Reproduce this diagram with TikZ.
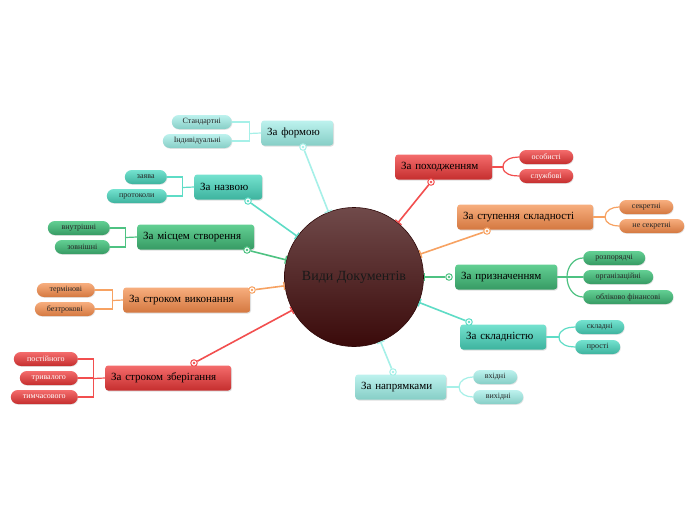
\documentclass[tikz,border=0pt]{standalone}
\usepackage{fontspec}
\setmainfont{Liberation Serif}
\usetikzlibrary{shadows,arrows.meta,calc}
\definecolor{cyA}{HTML}{BDF2EE}\definecolor{cyB}{HTML}{86CEC6}\definecolor{cyL}{HTML}{A6F0E8}
\definecolor{tlA}{HTML}{74E2CF}\definecolor{tlB}{HTML}{3DB39E}\definecolor{tlL}{HTML}{5EDCC6}
\definecolor{grA}{HTML}{62CF93}\definecolor{grB}{HTML}{379B64}\definecolor{grL}{HTML}{4EC282}
\definecolor{orA}{HTML}{F7AE7E}\definecolor{orB}{HTML}{D47840}\definecolor{orL}{HTML}{F7A262}
\definecolor{rdA}{HTML}{F46C6C}\definecolor{rdB}{HTML}{C52E2E}\definecolor{rdL}{HTML}{F24F4F}
\definecolor{ctA}{HTML}{704A4A}\definecolor{ctB}{HTML}{3A0A0A}
\tikzset{
  mainbox/.style={rectangle, rounded corners=3pt, minimum height=25pt, inner xsep=6pt, inner ysep=0pt,
    font=\fontsize{11}{13}\selectfont, text=black, align=left,
    drop shadow={shadow xshift=0.8pt, shadow yshift=-1pt, opacity=0.25}},
  leaf/.style={rectangle, rounded corners=7pt, minimum height=14pt, inner sep=0pt,
    font=\fontsize{8}{9}\selectfont, text=black!85,
    drop shadow={shadow xshift=0.6pt, shadow yshift=-0.8pt, opacity=0.2}},
  cy/.style={top color=cyA, bottom color=cyB},
  tl/.style={top color=tlA, bottom color=tlB},
  gr/.style={top color=grA, bottom color=grB},
  or/.style={top color=orA, bottom color=orB},
  rd/.style={top color=rdA, bottom color=rdB},
  ring/.style={circle, draw=#1, fill=white, line width=1pt, minimum size=6.5pt, inner sep=0pt,
    path picture={\fill[#1] (path picture bounding box.center) circle (1.3pt);}},
  trunk/.style={color=#1, line width=1.6pt, -{Bar[width=8pt,line width=1.3pt]}},
  twig/.style={color=#1, line width=1.2pt, line cap=round},
}
\begin{document}
\begin{tikzpicture}[x=1pt,y=-1pt]
\fill[white] (0,0) rectangle (696,520);
\useasboundingbox (0,0) rectangle (696,520);

% centre
\node[circle, minimum size=139pt, inner sep=0pt, top color=ctA, bottom color=ctB, draw=ctB!80!black, line width=0.6pt,
  font=\fontsize{14}{16}\selectfont, text=black!90] (c) at (354,277) {Види Документів};

% main boxes
\node[mainbox, cy, anchor=west, text width=60pt] (f) at (261,133) {За формою};
\node[mainbox, tl, anchor=west, text width=56pt] (n) at (194,187) {За назвою};
\node[mainbox, gr, anchor=west, text width=105pt] (m) at (137,237) {За місцем створення};
\node[mainbox, or, anchor=west, text width=115pt] (v) at (123,300) {За строком виконання};
\node[mainbox, rd, anchor=west, text width=114pt] (z) at (105,378) {За строком зберігання};
\node[mainbox, rd, anchor=west, text width=85pt] (p) at (395,167) {За походженням};
\node[mainbox, or, anchor=west, text width=124pt] (s) at (457,217) {За ступення складності};
\node[mainbox, gr, anchor=west, text width=90pt] (pr) at (455,277) {За призначенням};
\node[mainbox, tl, anchor=west, text width=74pt] (sk) at (460,337) {За складністю};
\node[mainbox, cy, anchor=west, text width=79pt] (np) at (355,387) {За напрямками};

% leaves
\node[leaf, cy, anchor=east, minimum width=60pt] (f1) at (232,122) {Стандартні};
\node[leaf, cy, anchor=east, minimum width=69pt] (f2) at (232,141) {Індивідуальні};
\node[leaf, tl, anchor=east, minimum width=42pt] (n1) at (167,177) {заява};
\node[leaf, tl, anchor=east, minimum width=60pt] (n2) at (167,196) {протоколи};
\node[leaf, gr, anchor=east, minimum width=62pt] (m1) at (110,228) {внутрішні};
\node[leaf, gr, anchor=east, minimum width=55pt] (m2) at (110,247) {зовнішні};
\node[leaf, or, anchor=east, minimum width=58pt] (v1) at (95,290) {термінові};
\node[leaf, or, anchor=east, minimum width=60pt] (v2) at (95,309) {безтрокові};
\node[leaf, rd, anchor=east, minimum width=64pt, text=white] (z1) at (78,359) {постійного};
\node[leaf, rd, anchor=east, minimum width=58pt, text=white] (z2) at (78,378) {тривалого};
\node[leaf, rd, anchor=east, minimum width=67pt, text=white] (z3) at (78,397) {тимчасового};
\node[leaf, rd, anchor=west, minimum width=54pt, text=white] (p1) at (519,157) {особисті};
\node[leaf, rd, anchor=west, minimum width=54pt, text=white] (p2) at (519,176) {службові};
\node[leaf, or, anchor=west, minimum width=54pt] (s1) at (619,207) {секретні};
\node[leaf, or, anchor=west, minimum width=65pt] (s2) at (619,226) {не секретні};
\node[leaf, gr, anchor=west, minimum width=62pt] (pr1) at (583,258) {розпорядчі};
\node[leaf, gr, anchor=west, minimum width=70pt] (pr2) at (583,277) {організаційні};
\node[leaf, gr, anchor=west, minimum width=90pt] (pr3) at (583,297) {обліково фінансові};
\node[leaf, tl, anchor=west, minimum width=49pt] (sk1) at (575,327) {складні};
\node[leaf, tl, anchor=west, minimum width=45pt] (sk2) at (575,347) {прості};
\node[leaf, cy, anchor=west, minimum width=44pt] (np1) at (473,377) {вхідні};
\node[leaf, cy, anchor=west, minimum width=50pt] (np2) at (473,397) {вихідні};

% rings and trunks
\node[ring=cyL] (rf) at (303,147) {};
\node[ring=tlL] (rn) at (248,201) {};
\node[ring=grL] (rm) at (247,250) {};
\node[ring=orL] (rv) at (252,290) {};
\node[ring=rdL] (rz) at (194,363) {};
\node[ring=rdL] (rp) at (431,182) {};
\node[ring=orL] (rs) at (487,231) {};
\node[ring=grL] (rpr) at (449,277) {};
\node[ring=tlL] (rsk) at (469,322) {};
\node[ring=cyL] (rnp) at (393,372) {};
\draw[trunk=cyL] (rf) -- (c);
\draw[trunk=tlL] (rn) -- (c);
\draw[trunk=grL] (rm) -- (c);
\draw[trunk=orL] (rv) -- (c);
\draw[trunk=rdL] (rz) -- (c);
\draw[trunk=rdL] (rp) -- (c);
\draw[trunk=orL] (rs) -- (c);
\draw[trunk=grL] (rpr) -- (c);
\draw[trunk=tlL] (rsk) -- (c);
\draw[trunk=cyL] (rnp) -- (c);

% left brackets
\coordinate (fj) at (249.5,133.5);
\draw[twig=cyL] (f.west) -- (fj);
\draw[twig=cyL] (f1.east) -- (fj |- f1.east) -- (fj |- f2.east) -- (f2.east);
\coordinate (nj) at (182.5,187.5);
\draw[twig=tlL] (n.west) -- (nj);
\draw[twig=tlL] (n1.east) -- (nj |- n1.east) -- (nj |- n2.east) -- (n2.east);
\coordinate (mj) at (125.5,237.5);
\draw[twig=grL] (m.west) -- (mj);
\draw[twig=grL] (m1.east) -- (mj |- m1.east) -- (mj |- m2.east) -- (m2.east);
\coordinate (vj) at (112.5,300.5);
\draw[twig=orL] (v.west) -- (vj);
\draw[twig=orL] (v1.east) -- (vj |- v1.east) -- (vj |- v2.east) -- (v2.east);
\coordinate (zj) at (93.5,378.5);
\draw[twig=rdL] (z.west) -- (zj);
\draw[twig=rdL] (z1.east) -- (zj |- z1.east) -- (zj |- z3.east) -- (z3.east);
\draw[twig=rdL] (zj |- z2.east) -- (z2.east);

% right curves
\coordinate (pj) at (503,167);
\draw[twig=rdL] (p.east) -- (pj);
\draw[twig=rdL] (pj) to[out=90,in=180] (p1.west);
\draw[twig=rdL] (pj) to[out=-90,in=180] (p2.west);
\coordinate (sj) at (605,217);
\draw[twig=orL] (s.east) -- (sj);
\draw[twig=orL] (sj) to[out=90,in=180] (s1.west);
\draw[twig=orL] (sj) to[out=-90,in=180] (s2.west);
\coordinate (prj) at (567,277);
\draw[twig=grL] (pr.east) -- (prj);
\draw[twig=grL] (prj) to[out=90,in=180] (pr1.west);
\draw[twig=grL] (prj) -- (pr2.west);
\draw[twig=grL] (prj) to[out=-90,in=180] (pr3.west);
\coordinate (skj) at (559,337);
\draw[twig=tlL] (sk.east) -- (skj);
\draw[twig=tlL] (skj) to[out=90,in=180] (sk1.west);
\draw[twig=tlL] (skj) to[out=-90,in=180] (sk2.west);
\coordinate (npj) at (459,387);
\draw[twig=cyL] (np.east) -- (npj);
\draw[twig=cyL] (npj) to[out=90,in=180] (np1.west);
\draw[twig=cyL] (npj) to[out=-90,in=180] (np2.west);
\end{tikzpicture}
\end{document}
